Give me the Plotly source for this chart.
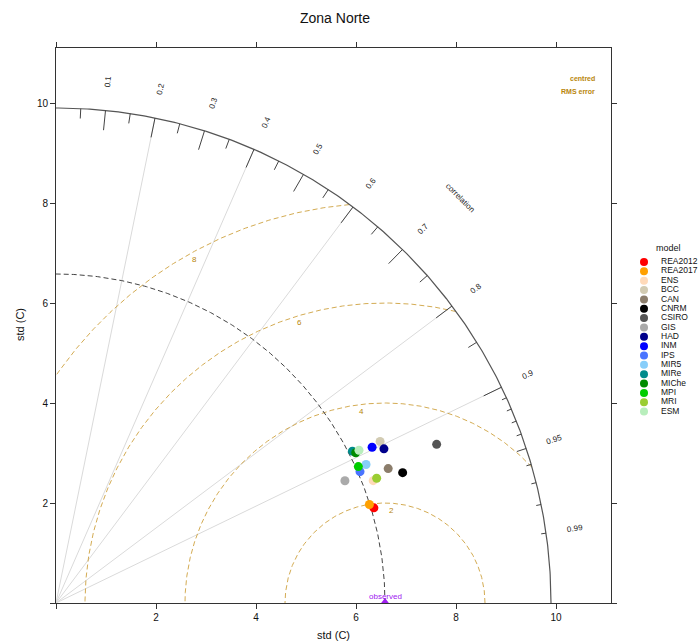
import numpy as np
import plotly.graph_objects as go

# ---------------- data ----------------
models = ["REA2012", "REA2017", "ENS", "BCC", "CAN", "CNRM", "CSIRO", "GIS", "HAD",
          "INM", "IPS", "MIR5", "MIRe", "MIChe", "MPI", "MRI", "ESM"]
model_sd = [6.636, 6.570, 6.800, 7.242, 7.167, 7.407, 8.248, 6.274, 7.247,
            7.048, 6.623, 6.792, 6.661, 6.705, 6.634, 6.881, 6.786]
model_cor = [0.958, 0.954, 0.933, 0.895, 0.927, 0.936, 0.923, 0.921, 0.905,
             0.897, 0.918, 0.913, 0.890, 0.894, 0.9115, 0.932, 0.893]
model_colors = ["#FF0000", "#FFA000", "#FFDAB9", "#D2CBB2", "#8B7D6B", "#000000",
                "#555555", "#AAAAAA", "#00008B", "#0000FF", "#4A74FF", "#87CEFA",
                "#008B8B", "#008B00", "#00CD00", "#9ACD32", "#B8EEBC"]
obs_sd = 6.58
max_sd = 9.9
corr_lines = [0.2, 0.4, 0.6, 0.8, 0.9]
corr_labels = [0.1, 0.2, 0.3, 0.4, 0.5, 0.6, 0.7, 0.8, 0.9, 0.95, 0.99]
big_ticks = [0.1, 0.2, 0.3, 0.4, 0.5, 0.6, 0.7, 0.8, 0.9]
med_ticks = [0.05, 0.15, 0.25, 0.35, 0.45, 0.55, 0.65, 0.75, 0.85, 0.95]
small_ticks = [0.91, 0.92, 0.93, 0.94, 0.96, 0.97, 0.98, 0.99]
rms_levels = [2, 4, 6, 8]
rms_label_angles = [86, 97, 107, 119]
axis_ticks = [0, 2, 4, 6, 8, 10]

GOLD = "#B8860B"
RNG = 11.1

fig = go.Figure()

# correlation rays
rx, ry = [], []
for c in corr_lines:
    rx += [0, max_sd * c, None]
    ry += [0, max_sd * np.sqrt(1 - c ** 2), None]
fig.add_trace(go.Scatter(x=rx, y=ry, mode="lines", line=dict(color="#DADADA", width=1),
                         hoverinfo="skip", showlegend=False))

# RMS contours
th = np.linspace(0, np.pi, 720)
for r in rms_levels:
    xs = obs_sd + r * np.cos(th)
    ys = r * np.sin(th)
    ok = (np.hypot(xs, ys) <= max_sd) & (xs >= 0)
    xs = np.where(ok, xs, np.nan)
    ys = np.where(ok, ys, np.nan)
    fig.add_trace(go.Scatter(x=xs, y=ys, mode="lines",
                             line=dict(color="rgba(200,150,40,0.8)", width=1, dash="5px,3px"),
                             hoverinfo="skip", showlegend=False, connectgaps=False))

# observed sd arc
ta = np.linspace(0, np.pi / 2, 300)
fig.add_trace(go.Scatter(x=obs_sd * np.cos(ta), y=obs_sd * np.sin(ta), mode="lines",
                         line=dict(color="#444444", width=1, dash="5px,3px"),
                         hoverinfo="skip", showlegend=False))

# outer arc
fig.add_trace(go.Scatter(x=max_sd * np.cos(ta), y=max_sd * np.sin(ta), mode="lines",
                         line=dict(color="#555555", width=1.2),
                         hoverinfo="skip", showlegend=False))

# arc ticks
tx, ty = [], []
for group, frac in ((big_ticks, 0.96), (med_ticks, 0.98), (small_ticks, 0.99)):
    for c in group:
        a = np.arccos(c)
        tx += [max_sd * np.cos(a), frac * max_sd * np.cos(a), None]
        ty += [max_sd * np.sin(a), frac * max_sd * np.sin(a), None]
fig.add_trace(go.Scatter(x=tx, y=ty, mode="lines", line=dict(color="#444444", width=1),
                         hoverinfo="skip", showlegend=False))

# model points
for m, s, c, col in zip(models, model_sd, model_cor, model_colors):
    fig.add_trace(go.Scatter(x=[s * c], y=[s * np.sqrt(1 - c ** 2)], mode="markers",
                             marker=dict(color=col, size=9, line=dict(width=0)),
                             name=m, showlegend=False))

# observed point
fig.add_trace(go.Scatter(x=[obs_sd], y=[0], mode="markers",
                         marker=dict(symbol="triangle-up", color="#A020F0", size=10),
                         showlegend=False, hoverinfo="skip", cliponaxis=True))

annotations = []
# correlation labels
for c in corr_labels:
    a = np.arccos(c)
    annotations.append(dict(x=1.06 * max_sd * np.cos(a), y=1.06 * max_sd * np.sin(a),
                            xref="x", yref="y", text=f"{c:g}", showarrow=False,
                            xanchor="center", yanchor="middle",
                            textangle=-np.degrees(a), font=dict(size=8, color="#222")))
annotations.append(dict(x=8.08, y=8.12, xref="x", yref="y", text="correlation",
                        xanchor="center", yanchor="middle",
                        showarrow=False, textangle=45, font=dict(size=8, color="#222")))
# rms labels
for r, ang in zip(rms_levels, rms_label_angles):
    a = np.radians(ang)
    annotations.append(dict(x=obs_sd + (r - 0.14) * np.cos(a), y=(r - 0.14) * np.sin(a),
                            xref="x", yref="y", text=str(r), showarrow=False,
                            xanchor="center", yanchor="middle",
                            font=dict(size=8, color=GOLD)))
annotations.append(dict(x=10.82, y=10.5, xref="x", yref="y", text="<b>centred</b>",
                        xanchor="right", yanchor="middle",
                        showarrow=False, font=dict(size=7, color=GOLD)))
annotations.append(dict(x=10.82, y=10.24, xref="x", yref="y", text="<b>RMS error</b>",
                        xanchor="right", yanchor="middle",
                        showarrow=False, font=dict(size=7, color=GOLD)))
annotations.append(dict(x=obs_sd, y=0, xref="x", yref="y", text="observed",
                        xanchor="center", yanchor="bottom",
                        yshift=0, showarrow=False, font=dict(size=8, color="#A020F0")))

# titles
annotations.append(dict(x=(335 - 56) / 643, y=(603 - 18) / 555, xref="paper", yref="paper",
                        xanchor="center", yanchor="middle",
                        text="Zona Norte", showarrow=False, font=dict(size=14, color="#111")))
annotations.append(dict(x=(333 - 56) / 643, y=(603 - 635) / 555, xref="paper", yref="paper",
                        xanchor="center", yanchor="middle",
                        text="std (C)", showarrow=False, font=dict(size=11, color="#111")))
annotations.append(dict(x=(20 - 56) / 643, y=(603 - 325) / 555, xref="paper", yref="paper",
                        xanchor="center", yanchor="middle",
                        text="std (C)", textangle=-90, showarrow=False,
                        font=dict(size=11, color="#111")))

# legend (manual, on its own pixel-like axes)
leg_y = [262 + i * 9.35 for i in range(len(models))]
fig.add_trace(go.Scatter(x=[644] * len(models), y=leg_y, mode="markers",
                         marker=dict(color=model_colors, size=8), xaxis="x2", yaxis="y2",
                         showlegend=False, hoverinfo="skip"))
fig.add_trace(go.Scatter(x=[661] * len(models), y=leg_y, mode="text", text=models,
                         textposition="middle right", textfont=dict(size=8.5, color="#111"),
                         xaxis="x2", yaxis="y2", showlegend=False, hoverinfo="skip",
                         cliponaxis=False))
annotations.append(dict(x=668, y=248, xref="x2", yref="y2", text="model", showarrow=False,
                        xanchor="center", yanchor="middle",
                        font=dict(size=9, color="#111")))

axis_common = dict(range=[0, RNG], showgrid=False, zeroline=False, showline=True,
                   linecolor="#333", linewidth=1, mirror="ticks", ticks="outside",
                   ticklen=5, tickcolor="#333", tickvals=axis_ticks,
                   ticktext=["" if v == 0 else str(v) for v in axis_ticks],
                   tickfont=dict(size=10, color="#111"))

fig.update_layout(
    width=699, height=644,
    margin=dict(l=56, r=0, t=48, b=41),
    paper_bgcolor="white", plot_bgcolor="white",
    font=dict(family="Liberation Sans, Arial, sans-serif"),
    xaxis=dict(domain=[0, 555 / 643], anchor="y", **axis_common),
    yaxis=dict(domain=[0, 1], anchor="x", **axis_common),
    xaxis2=dict(domain=[(636 - 56) / 643, 1], range=[636, 699], visible=False, anchor="y2"),
    yaxis2=dict(domain=[0, 1], range=[603, 48], visible=False, anchor="x2"),
    annotations=annotations,
    showlegend=False,
)

fig.write_html("out.html", config={"displayModeBar": False},
               post_script="document.body.style.margin='0';document.body.style.overflow='hidden';")
